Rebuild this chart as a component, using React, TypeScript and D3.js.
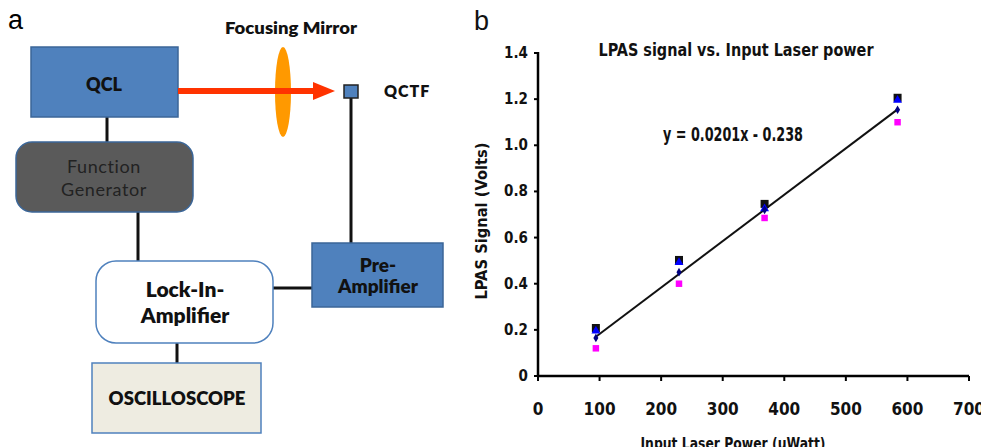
import * as d3 from "d3";

// measured input power (uWatt) and LPAS signal (Volts) for four runs
const powers = [94, 229, 368, 584];
const runSquare = [0.208, 0.503, 0.746, 1.206];
const runTriangle = [0.2, 0.497, 0.73, 1.2];
const runDiamond = [0.165, 0.45, 0.72, 1.154];
const runPink = [0.12, 0.4, 0.685, 1.1];

const xTicks = [0, 100, 200, 300, 400, 500, 600, 700];
const yTicks = [0, 0.2, 0.4, 0.6, 0.8, 1.0, 1.2, 1.4];
const yTickLabels = ["0", "0.2", "0.4", "0.6", "0.8", "1.0", "1.2", "1.4"];

const width = 981;
const height = 447;

const narrow = "'Liberation Sans Narrow', 'Arial Narrow', 'DejaVu Sans Condensed', sans-serif";
const diagramFont = "Lato, 'Open Sans', sans-serif";

function linearFit(xs: number[], ys: number[]) {
  const mx = d3.mean(xs)!;
  const my = d3.mean(ys)!;
  const sxy = d3.sum(xs, (x, i) => (x - mx) * (ys[i] - my));
  const sxx = d3.sum(xs, (x) => (x - mx) * (x - mx));
  const slope = sxy / sxx;
  return { slope, intercept: my - slope * mx };
}

function Diagram() {
  const blue = "#4F81BD";
  const edge = "#3B6698";
  return (
    <g>
      <text x={8} y={29} fontFamily="'Liberation Sans', Arial, sans-serif" fontSize={27}>a</text>

      {/* connectors */}
      <g stroke="#111" strokeWidth={3}>
        <line x1={107} y1={117} x2={107} y2={142} />
        <line x1={138} y1={212} x2={138} y2={262} />
        <line x1={351} y1={98} x2={351} y2={243} />
        <line x1={273} y1={288} x2={312} y2={288} />
        <line x1={177} y1={343} x2={177} y2={363} />
      </g>

      <rect x={31} y={47} width={147} height={70} fill={blue} stroke={edge} strokeWidth={1.5} />
      <text x={104} y={91} textAnchor="middle" fontFamily={diagramFont} fontWeight={800} fontSize={18} fill="#111">QCL</text>

      <ellipse cx={283} cy={92} rx={8} ry={45} fill="#FF9900" />
      <line x1={178} y1={91} x2={316} y2={91} stroke="#FF3300" strokeWidth={6} />
      <path d="M313,82 L335,91 L313,100 Z" fill="#FF3300" />
      <text x={291} y={34} textAnchor="middle" fontFamily={diagramFont} fontWeight={800} fontSize={16} textLength={132} lengthAdjust="spacingAndGlyphs" fill="#111">Focusing Mirror</text>

      <rect x={344} y={85} width={14} height={13} fill={blue} stroke="#222" strokeWidth={1.5} />
      <text x={384} y={97} fontFamily={diagramFont} fontWeight={800} fontSize={16} letterSpacing={1} fill="#111">QCTF</text>

      <rect x={16} y={142} width={177} height={70} rx={16} fill="#5A5A5A" stroke={edge} strokeWidth={1.5} />
      <text x={104} y={173} textAnchor="middle" fontFamily={diagramFont} fontSize={18} letterSpacing={0.6} fill="#222">Function</text>
      <text x={104} y={196} textAnchor="middle" fontFamily={diagramFont} fontSize={18} letterSpacing={0.6} fill="#222">Generator</text>

      <rect x={312} y={243} width={131} height={64} fill={blue} stroke={edge} strokeWidth={1.5} />
      <text x={378} y={272} textAnchor="middle" fontFamily={diagramFont} fontWeight={800} fontSize={19} fill="#111">Pre-</text>
      <text x={378} y={293} textAnchor="middle" fontFamily={diagramFont} fontWeight={800} fontSize={19} fill="#111">Amplifier</text>

      <rect x={96} y={261} width={177} height={82} rx={20} fill="#fff" stroke={blue} strokeWidth={1.5} />
      <text x={185} y={297} textAnchor="middle" fontFamily={diagramFont} fontWeight={800} fontSize={21} fill="#111">Lock-In-</text>
      <text x={185} y={323} textAnchor="middle" fontFamily={diagramFont} fontWeight={800} fontSize={21} fill="#111">Amplifier</text>

      <rect x={92} y={363} width={169} height={70} fill="#EEECE1" stroke={blue} strokeWidth={1.5} />
      <text x={177} y={405} textAnchor="middle" fontFamily={diagramFont} fontWeight={800} fontSize={18.5} fill="#111">OSCILLOSCOPE</text>
    </g>
  );
}

function Plot() {
  const x = d3.scaleLinear().domain([0, 700]).range([538, 969]);
  const y = d3.scaleLinear().domain([0, 1.4]).range([376, 53]);

  const fit = linearFit(powers, runDiamond);
  const x0 = d3.min(powers)!;
  const x1 = d3.max(powers)!;
  const fitLine = d3.line<number>().x((d) => x(d)).y((d) => y(fit.slope * d + fit.intercept));

  const square = d3.symbol(d3.symbolSquare, 64)();
  const pinkSquare = d3.symbol(d3.symbolSquare, 42)();
  const triangle = d3.symbol(d3.symbolTriangle, 34)();
  const diamond = d3.symbol(d3.symbolDiamond, 22)();

  return (
    <g fontFamily={narrow} fontWeight={700} fill="#111">
      <text x={474} y={30} fontFamily="'Liberation Sans', Arial, sans-serif" fontWeight={400} fontSize={27}>b</text>
      <text x={736} y={56} textAnchor="middle" fontSize={18} textLength={275} lengthAdjust="spacingAndGlyphs">LPAS signal vs. Input Laser power</text>

      {/* axes */}
      <line x1={x(0)} y1={y(1.4) - 1} x2={x(0)} y2={y(0)} stroke="#000" strokeWidth={2.5} />
      <line x1={x(0)} y1={y(0)} x2={x(700)} y2={y(0)} stroke="#000" strokeWidth={2.5} />
      {yTicks.map((t, i) => (
        <g key={`y${t}`}>
          <line x1={x(0) - 4} x2={x(0)} y1={y(t)} y2={y(t)} stroke="#000" strokeWidth={2} />
          <text x={x(0) - 10} y={y(t) + 5} textAnchor="end" fontSize={15}>{yTickLabels[i]}</text>
        </g>
      ))}
      {xTicks.map((t) => (
        <g key={`x${t}`}>
          <line x1={x(t)} x2={x(t)} y1={y(0)} y2={y(0) + 5} stroke="#000" strokeWidth={2} />
          <text x={x(t)} y={415} textAnchor="middle" fontSize={17}>{t}</text>
        </g>
      ))}
      <text x={733} y={449} textAnchor="middle" fontSize={16} textLength={185} lengthAdjust="spacingAndGlyphs">Input Laser Power (uWatt)</text>
      <text transform={`translate(487,${221}) rotate(-90)`} textAnchor="middle" fontSize={15} textLength={157} lengthAdjust="spacingAndGlyphs">LPAS Signal (Volts)</text>

      <text x={733} y={141} textAnchor="middle" fontSize={19} textLength={140} lengthAdjust="spacingAndGlyphs">y = 0.0201x - 0.238</text>

      <path d={fitLine([x0, x1]) ?? ""} fill="none" stroke="#111" strokeWidth={2} />

      {powers.map((p, i) => (
        <g key={`m${p}`}>
          <path d={square} transform={`translate(${x(p)},${y(runSquare[i])})`} fill="#111" />
          <path d={triangle} transform={`translate(${x(p)},${y(runTriangle[i]) + 1})`} fill="#0000FF" />
          <path d={diamond} transform={`translate(${x(p)},${y(runDiamond[i])})`} fill="#000080" />
          <path d={pinkSquare} transform={`translate(${x(p)},${y(runPink[i])})`} fill="#FF00FF" />
        </g>
      ))}
    </g>
  );
}

export default function App() {
  return (
    <svg
      width={width}
      height={height}
      viewBox={`0 0 ${width} ${height}`}
      style={{ position: "absolute", left: 0, top: 0, background: "#fff", display: "block" }}
    >
      <Diagram />
      <Plot />
    </svg>
  );
}
